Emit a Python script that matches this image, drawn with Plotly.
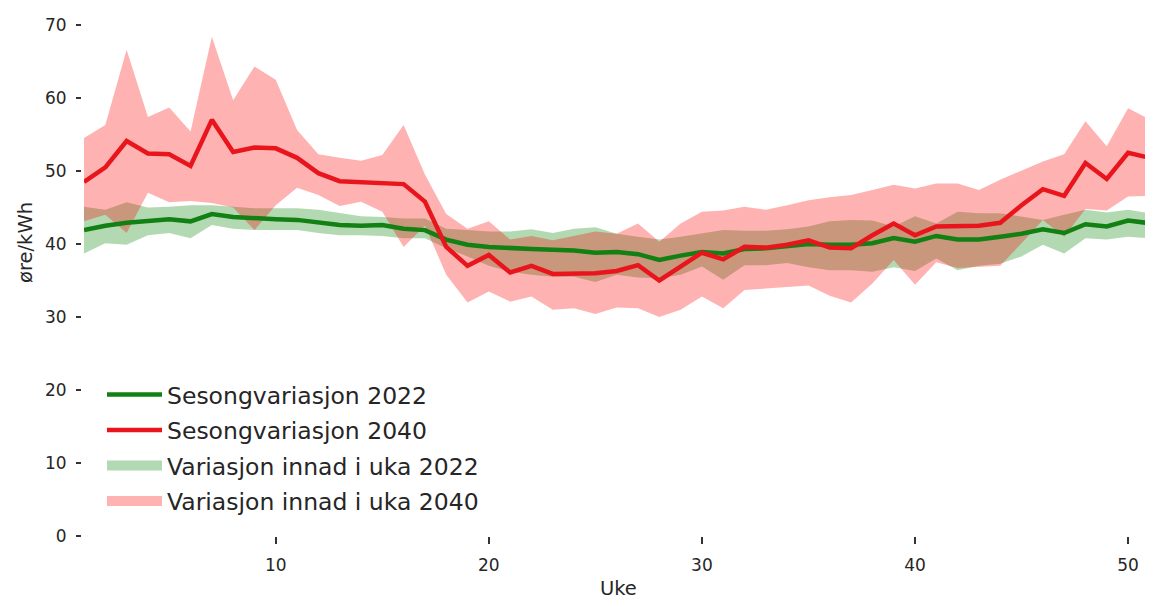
import plotly.graph_objects as go

weeks = list(range(1, 53))

price_2040 = [48.5, 50.5, 54.1, 52.4, 52.3, 50.7, 57.0, 52.6, 53.2, 53.1,
              51.8, 49.7, 48.6, 48.5, 48.4, 48.2, 45.8, 39.6, 37.0, 38.5,
              36.1, 37.0, 35.9, 35.9, 36.0, 36.3, 37.1, 35.0, 36.9, 38.8,
              37.9, 39.6, 39.5, 39.9, 40.5, 39.5, 39.4, 41.2, 42.8, 41.2,
              42.4, 42.4, 42.5, 42.9, 45.3, 47.5, 46.6, 51.1, 48.9, 52.5,
              51.8, 44.5]
high_2040 = [54.5, 56.3, 66.6, 57.4, 58.7, 55.4, 68.4, 59.7, 64.3, 62.5,
             55.6, 52.3, 51.8, 51.4, 52.2, 56.3, 49.5, 44.1, 42.1, 43.1,
             40.6, 41.1, 40.5, 41.1, 41.7, 41.4, 42.8, 40.3, 42.8, 44.4,
             44.6, 45.1, 44.7, 45.3, 46.0, 46.4, 46.7, 47.4, 48.1, 47.6,
             48.3, 48.3, 47.4, 48.8, 50.1, 51.3, 52.3, 56.8, 53.4, 58.6,
             57.1, 53.0]
low_2040 = [43.1, 44.0, 41.5, 47.0, 45.7, 45.9, 45.6, 45.0, 41.9, 45.3,
            47.7, 46.7, 45.2, 45.8, 44.4, 39.6, 42.5, 35.8, 32.0, 33.5,
            32.1, 32.8, 31.0, 31.2, 30.4, 31.3, 31.2, 30.0, 31.0, 32.8,
            31.2, 33.7, 33.9, 34.1, 34.3, 32.9, 32.0, 34.6, 37.8, 34.4,
            37.5, 36.7, 36.8, 37.0, 40.1, 43.3, 41.0, 44.8, 44.6, 46.5,
            46.6, 45.5]

price_2022 = [41.9, 42.5, 42.9, 43.2, 43.4, 43.1, 44.1, 43.7, 43.5, 43.4,
              43.3, 42.9, 42.6, 42.5, 42.6, 42.1, 41.9, 40.6, 39.9, 39.6,
              39.4, 39.3, 39.2, 39.1, 38.8, 38.9, 38.6, 37.8, 38.4, 38.9,
              38.7, 39.3, 39.4, 39.7, 40.0, 39.9, 39.9, 40.1, 40.8, 40.3,
              41.1, 40.6, 40.6, 41.0, 41.4, 42.0, 41.5, 42.7, 42.4, 43.2,
              42.8, 42.5]
high_2022 = [45.1, 44.7, 45.7, 45.0, 45.1, 45.3, 45.3, 45.1, 44.9, 44.9,
             44.9, 44.7, 44.2, 43.8, 43.7, 43.5, 43.5, 42.1, 41.9, 41.7,
             41.7, 42.0, 41.5, 42.1, 42.3, 41.4, 41.0, 40.6, 41.0, 41.4,
             41.9, 41.8, 41.8, 42.0, 42.4, 43.1, 43.3, 43.2, 42.4, 43.8,
             42.8, 44.4, 44.2, 44.2, 43.8, 43.3, 44.0, 44.7, 44.3, 44.7,
             44.2, 44.0]
low_2022 = [38.7, 40.1, 39.9, 41.2, 41.5, 40.8, 42.6, 42.1, 41.9, 41.9,
            41.9, 41.5, 41.2, 41.2, 41.1, 40.8, 40.8, 39.4, 38.3, 37.0,
            36.2, 35.8, 35.5, 35.5, 34.8, 35.8, 35.4, 35.3, 35.8, 36.9,
            35.1, 37.1, 37.1, 37.4, 36.8, 36.4, 36.4, 36.2, 36.8, 36.3,
            38.0, 36.4, 37.0, 37.3, 38.3, 39.9, 38.7, 40.8, 40.6, 41.0,
            40.8, 40.5]

names = ["Sesongvariasjon 2022", "Sesongvariasjon 2040",
         "Variasjon innad i uka 2022", "Variasjon innad i uka 2040"]
y_ticks = [0, 10, 20, 30, 40, 50, 60, 70]
x_ticks = [10, 20, 30, 40, 50]

GREEN = "#128012"
RED = "#e8161c"
GREEN_FILL = "rgba(0,128,0,0.3)"
RED_FILL = "rgba(255,0,0,0.3)"
FONT = "DejaVu Sans"
TXT = "#262626"

# the page body adds an 8px offset; the figure is laid out to compensate
W, H = 1153, 598
ML, MT, MR, MB = 73, 6, 8, 70
PW, PH = W - ML - MR, H - MT - MB

fig = go.Figure()

# bands
fig.add_trace(go.Scatter(x=weeks, y=low_2022, mode="lines", line=dict(width=0),
                         showlegend=False, hoverinfo="skip"))
fig.add_trace(go.Scatter(x=weeks, y=high_2022, mode="lines", line=dict(width=0),
                         fill="tonexty", fillcolor=GREEN_FILL, showlegend=False))
fig.add_trace(go.Scatter(x=weeks, y=low_2040, mode="lines", line=dict(width=0),
                         showlegend=False, hoverinfo="skip"))
fig.add_trace(go.Scatter(x=weeks, y=high_2040, mode="lines", line=dict(width=0),
                         fill="tonexty", fillcolor=RED_FILL, showlegend=False))

# lines
fig.add_trace(go.Scatter(x=weeks, y=price_2022, mode="lines", name=names[0],
                         line=dict(color=GREEN, width=4.5), legendrank=1,
                         legendgroup="a"))
fig.add_trace(go.Scatter(x=weeks, y=price_2040, mode="lines", name=names[1],
                         line=dict(color=RED, width=4.5), legendrank=2,
                         legendgroup="b"))

# legend patches for the bands
fig.add_trace(go.Scatter(x=[None], y=[None], mode="lines", name=names[2],
                         line=dict(color=GREEN_FILL, width=17), legendrank=3,
                         legendgroup="c"))
fig.add_trace(go.Scatter(x=[None], y=[None], mode="lines", name=names[3],
                         line=dict(color=RED_FILL, width=17), legendrank=4,
                         legendgroup="d"))

fig.update_layout(
    width=W, height=H,
    margin=dict(l=ML, r=MR, t=MT, b=MB, autoexpand=False),
    plot_bgcolor="white", paper_bgcolor="white",
    font=dict(family=FONT, color=TXT, size=17),
    showlegend=True,
    legend=dict(x=(94 - ML) / PW, y=0.313, xanchor="left", yanchor="top",
                font=dict(family=FONT, size=23.5, color=TXT),
                bgcolor="rgba(0,0,0,0)", itemwidth=55,
                traceorder="grouped", tracegroupgap=2),
    xaxis=dict(domain=[3 / PW, 1], range=[1, 51.17], tickvals=x_ticks,
               anchor="free", position=0, side="bottom",
               showgrid=False, automargin=False,
               zeroline=False, showline=False, ticks="outside", ticklen=7,
               tickwidth=1.5, tickcolor="#333333", ticklabelstandoff=7,
               tickfont=dict(size=17, family=FONT, color=TXT)),
    yaxis=dict(range=[0, 71.5], anchor="free", position=0, side="left",
               tickvals=y_ticks, showgrid=False, zeroline=False,
               showline=False, automargin=False,
               ticks="outside", ticklen=5, tickwidth=1.5, tickcolor="#333333",
               ticklabelstandoff=6,
               tickfont=dict(size=17, family=FONT, color=TXT)),
    annotations=[
        dict(text="øre/kWh", textangle=-90, xref="paper", yref="paper",
             x=(17 - ML) / PW, y=(528 - 235) / PH,
             xanchor="center", yanchor="middle", showarrow=False,
             font=dict(size=19.5, family=FONT, color=TXT)),
        dict(text="Uke", xref="paper", yref="paper",
             x=(610 - ML) / PW, y=(528 - 580) / PH,
             xanchor="center", yanchor="middle", showarrow=False,
             font=dict(size=19.5, family=FONT, color=TXT)),
    ],
)

fig.write_html("out.html")
